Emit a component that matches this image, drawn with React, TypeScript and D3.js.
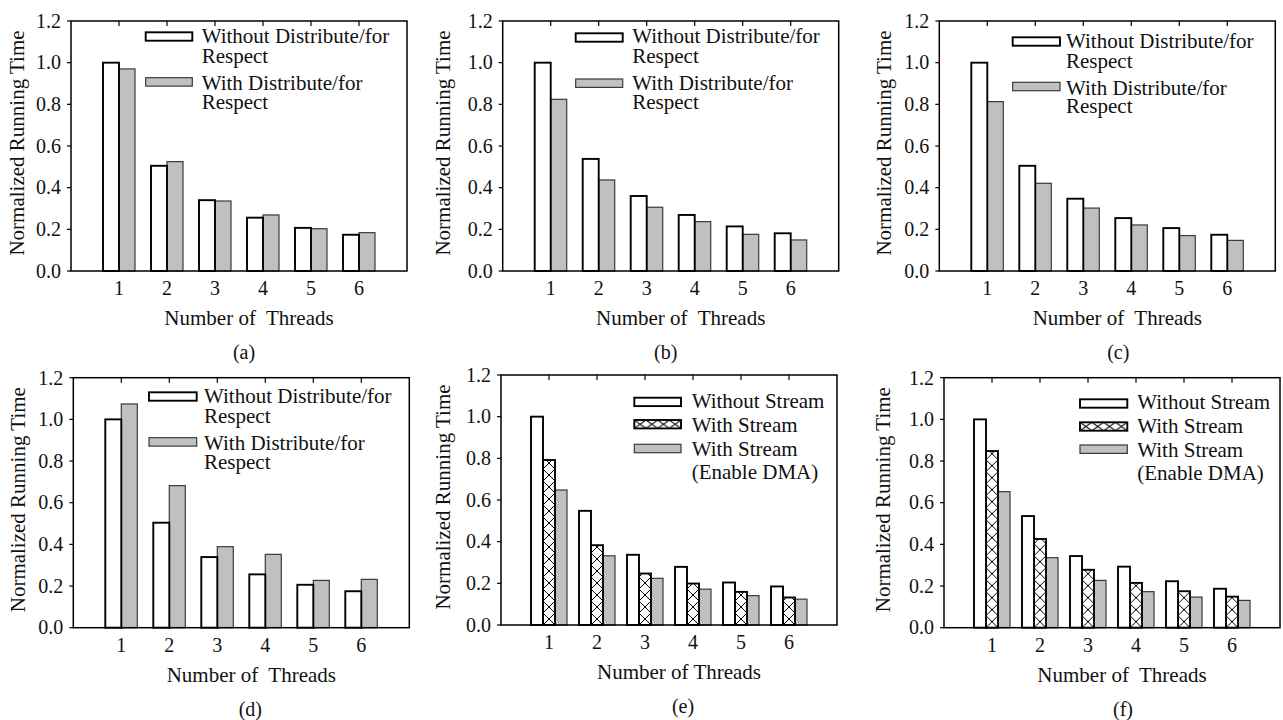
import React from "react";
import * as d3 from "d3";

// ---------- data ----------
const categories = [1, 2, 3, 4, 5, 6];
const yTickValues = [0, 0.2, 0.4, 0.6, 0.8, 1.0, 1.2];

const aWithout = [1.0, 0.505, 0.34, 0.256, 0.207, 0.174];
const aWith = [0.97, 0.525, 0.336, 0.269, 0.203, 0.184];
const bWithout = [1.0, 0.538, 0.36, 0.269, 0.214, 0.181];
const bWith = [0.824, 0.437, 0.306, 0.237, 0.176, 0.149];
const cWithout = [1.0, 0.505, 0.347, 0.254, 0.206, 0.174];
const cWith = [0.813, 0.421, 0.302, 0.221, 0.17, 0.147];
const dWithout = [1.0, 0.504, 0.339, 0.256, 0.206, 0.175];
const dWith = [1.074, 0.682, 0.389, 0.352, 0.227, 0.232];
const eWithout = [1.0, 0.548, 0.337, 0.279, 0.204, 0.185];
const eStream = [0.792, 0.383, 0.247, 0.199, 0.159, 0.132];
const eDMA = [0.648, 0.332, 0.224, 0.172, 0.141, 0.124];
const fWithout = [1.0, 0.536, 0.344, 0.293, 0.223, 0.187];
const fStream = [0.848, 0.426, 0.278, 0.215, 0.175, 0.149];
const fDMA = [0.653, 0.336, 0.227, 0.173, 0.147, 0.131];

const distLabels = [["Without Distribute/for", "Respect"], ["With Distribute/for", "Respect"]];
const streamLabels = [["Without Stream"], ["With Stream"], ["With Stream", "(Enable DMA)"]];
const xTitle = "Number of  Threads";
const xTitleE = "Number of Threads";
const yTitle = "Normalized Running Time";
const captions = ["(a)", "(b)", "(c)", "(d)", "(e)", "(f)"];

type Style = "white" | "hatch" | "gray";

const FONT = "'Liberation Serif', 'Times New Roman', serif";
const W = 336;
const H = 250;

interface PanelCfg {
  id: string;
  left: number;
  top: number;
  series: number[][];
  styles: Style[];
  labels: string[][];
  swX: number;
  swW: number;
  swY: number[];
  textX: number;
  baselines: number[][];
  xTitle: string;
  caption: string;
  capDx: number;
  yLabDx: number;
}

const panels: PanelCfg[] = [
  { id: "a", left: 71, top: 21, series: [aWithout, aWith], styles: ["white", "gray"], labels: distLabels,
    swX: 74.7, swW: 46.6, swY: [11.3, 56.7], textX: 130.7, baselines: [[22.3, 41.7], [69, 88]],
    xTitle, caption: captions[0], capDx: 5, yLabDx: -51.5 },
  { id: "b", left: 502.7, top: 21, series: [bWithout, bWith], styles: ["white", "gray"], labels: distLabels,
    swX: 73, swW: 47, swY: [12.3, 58], textX: 129.6, baselines: [[22.3, 42.3], [69, 88.3]],
    xTitle, caption: captions[1], capDx: -5, yLabDx: -57.7 },
  { id: "c", left: 939.3, top: 21, series: [cWithout, cWith], styles: ["white", "gray"], labels: distLabels,
    swX: 73.4, swW: 47.3, swY: [16.3, 61.3], textX: 126.7, baselines: [[26.7, 46.7], [74, 92.3]],
    xTitle, caption: captions[2], capDx: 11, yLabDx: -52.6 },
  { id: "d", left: 73.3, top: 377.7, series: [dWithout, dWith], styles: ["white", "gray"], labels: distLabels,
    swX: 75.7, swW: 47.7, swY: [14.6, 60], textX: 130.7, baselines: [[25.6, 45], [72.3, 91.3]],
    xTitle, caption: captions[3], capDx: 9, yLabDx: -53.3 },
  { id: "e", left: 501, top: 375, series: [eWithout, eStream, eDMA], styles: ["white", "hatch", "gray"], labels: streamLabels,
    swX: 133.3, swW: 46.7, swY: [22.7, 45, 69.3], textX: 190.7, baselines: [[33.3], [56.7], [80.7, 104]],
    xTitle: xTitleE, caption: captions[4], capDx: 14, yLabDx: -56 },
  { id: "f", left: 944, top: 377.7, series: [fWithout, fStream, fDMA], styles: ["white", "hatch", "gray"], labels: streamLabels,
    swX: 136, swW: 47.3, swY: [21.6, 44.6, 67.3], textX: 193.3, baselines: [[31.6], [55], [79, 102.3]],
    xTitle, caption: captions[5], capDx: 11, yLabDx: -59 },
];

function fillFor(style: Style, id: string, legend = false, idx = 0) {
  if (style === "white") return "#ffffff";
  if (style === "gray") return "#c0c0c0";
  return legend ? `url(#hatchL-${id}-${idx})` : `url(#hatch-${id})`;
}
function strokeFor(style: Style) {
  return style === "gray" ? "#3a3a3a" : "#000";
}
function strokeWFor(style: Style) {
  return style === "gray" ? 1.2 : 1.9;
}

function Panel({ cfg }: { cfg: PanelCfg }) {
  const x = d3.scaleLinear().domain([0, 7]).range([0, W]);
  const y = d3.scaleLinear().domain([0, 1.2]).range([H, 0]);
  const n = cfg.series.length;
  const unit = x(1) - x(0);
  const groupW = n === 2 ? unit * (2 / 3) : unit * 0.75;
  const inner = d3
    .scaleBand<number>()
    .domain(d3.range(n))
    .range([-groupW / 2, groupW / 2])
    .padding(0);
  const bw = inner.bandwidth();
  const fmt = d3.format(".1f");
  const drawOrder = d3.range(n).reverse();
  const hatchIdx = cfg.styles.indexOf("hatch");
  const hatchX = hatchIdx >= 0 ? x(categories[0]) + (inner(hatchIdx) as number) : 0;

  return (
    <g transform={`translate(${cfg.left},${cfg.top})`}>
      <defs>
        <pattern id={`hatch-${cfg.id}`} patternUnits="userSpaceOnUse" x={hatchX} y={H} width={bw} height={bw}>
          <rect width={bw} height={bw} fill="#fff" />
          <path d={`M0,0L${bw},${bw}M0,${bw}L${bw},0`} stroke="#000" strokeWidth={1} />
        </pattern>
        {cfg.styles.map((s, i) =>
          s === "hatch" ? (
            <pattern key={i} id={`hatchL-${cfg.id}-${i}`} patternUnits="userSpaceOnUse" x={cfg.swX} y={cfg.swY[i]}
              width={cfg.swW / 4} height={8.4}>
              <rect width={cfg.swW / 4} height={8.4} fill="#fff" />
              <path d={`M0,0L${cfg.swW / 4},8.4M0,8.4L${cfg.swW / 4},0`} stroke="#000" strokeWidth={1} />
            </pattern>
          ) : null
        )}
      </defs>
      {/* top ticks (inward) */}
      {categories.map((c) => (
        <line key={`tt${c}`} x1={x(c)} x2={x(c)} y1={0} y2={5} stroke="#000" strokeWidth={1.2} />
      ))}
      {/* y ticks (outward) and labels */}
      {yTickValues.map((v) => (
        <g key={`yt${v}`}>
          <line x1={-4} x2={0} y1={y(v)} y2={y(v)} stroke="#000" strokeWidth={1.2} />
          <text x={-10} y={y(v) + 6.8} textAnchor="end" fontFamily={FONT} fontSize={20} fill="#111">
            {fmt(v)}
          </text>
        </g>
      ))}
      {/* bars */}
      {drawOrder.map((si) =>
        categories.map((c, ci) => {
          const v = cfg.series[si][ci];
          const bx = x(c) + (inner(si) as number);
          return (
            <rect key={`b${si}-${c}`} x={bx} y={y(v)} width={bw} height={y(0) - y(v)}
              fill={fillFor(cfg.styles[si], cfg.id)} stroke={strokeFor(cfg.styles[si])}
              strokeWidth={strokeWFor(cfg.styles[si])} />
          );
        })
      )}
      {/* frame */}
      <rect x={0} y={0} width={W} height={H} fill="none" stroke="#000" strokeWidth={1.5} />
      {/* x tick labels */}
      {categories.map((c) => (
        <text key={`xl${c}`} x={x(c)} y={H + 24} textAnchor="middle" fontFamily={FONT} fontSize={20} fill="#111">
          {c}
        </text>
      ))}
      {/* x title */}
      <text x={W / 2 + 10} y={H + 54} textAnchor="middle" fontFamily={FONT} fontSize={21} fill="#111"
        style={{ whiteSpace: "pre" }}>
        {cfg.xTitle}
      </text>
      {/* y title */}
      <text transform={`translate(${cfg.yLabDx + 4.6},${H / 2 - 3}) rotate(-90)`} textAnchor="middle"
        fontFamily={FONT} fontSize={21} fill="#111">
        {yTitle}
      </text>
      {/* legend */}
      {cfg.styles.map((s, i) => (
        <g key={`lg${i}`}>
          <rect x={cfg.swX} y={cfg.swY[i]} width={cfg.swW} height={8.4} fill={fillFor(s, cfg.id, true, i)}
            stroke={strokeFor(s)} strokeWidth={strokeWFor(s)} />
          {cfg.labels[i].map((line, li) => (
            <text key={li} x={cfg.textX} y={cfg.baselines[i][li]} fontFamily={FONT} fontSize={21} fill="#111">
              {line}
            </text>
          ))}
        </g>
      ))}
      {/* caption */}
      <text x={W / 2 + cfg.capDx} y={H + 88} textAnchor="middle" fontFamily={FONT} fontSize={20} fill="#111">
        {cfg.caption}
      </text>
    </g>
  );
}

export default function App() {
  return (
    <svg width={1283} height={720} style={{ position: "absolute", left: 0, top: 0, background: "#fff" }}>
      <rect width={1283} height={720} fill="#fff" />
      {panels.map((p) => (
        <Panel key={p.id} cfg={p} />
      ))}
    </svg>
  );
}
